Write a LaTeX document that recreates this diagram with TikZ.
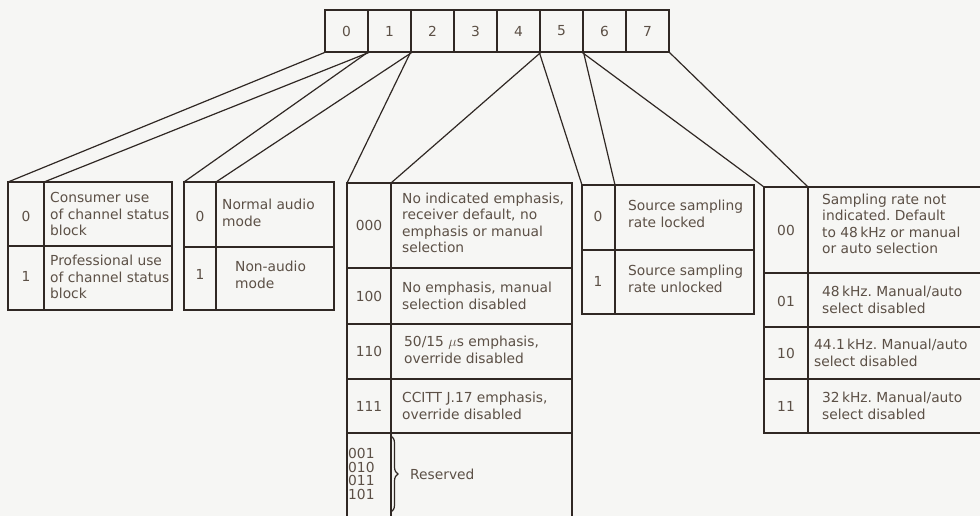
\documentclass[tikz,border=0pt]{standalone}
\usepackage{fontspec}
\setmainfont{DejaVu Sans}
\usetikzlibrary{calc, decorations.pathreplacing}
\frenchspacing

\definecolor{ink}{RGB}{48,40,36}
\definecolor{inktext}{RGB}{92,80,70}
\definecolor{paper}{RGB}{246,246,244}

\tikzset{
  rule/.style={draw=ink, line width=1.2pt},
  bitbox/.style={rule, minimum width=43pt, minimum height=42pt, inner sep=0pt, text=inktext},
  code/.style={text=inktext, inner sep=0pt},
  desc/.style={text=inktext, inner sep=0pt, anchor=west, align=left},
}

\begin{document}
\begin{tikzpicture}[x=1pt, y=-1pt, font=\fontsize{13.8}{16.5}\selectfont]
\fill[paper] (0,0) rectangle (980,516);
\useasboundingbox (0,0) rectangle (980,516);

% the eight bits of the byte
\foreach \i in {0,...,7}{
    \node[bitbox] (bit\i) at (346.5+43*\i,31) {\i};
}

% bit 0
\draw[rule] (8,182) rectangle (172,310) (44,182) -- (44,310) (8,246) -- (172,246);
\coordinate (t1) at (8,182);
\coordinate (t1d) at (44,182);
\node[code] (c1a) at (26,216) {0};
\node[desc] (d1a) at (50,214) {Consumer use\\of channel status\\block};
\node[code] (c1b) at (26,276) {1};
\node[desc] (d1b) at (50,277) {Professional use\\of channel status\\block};

% bit 1
\draw[rule] (184,182) rectangle (334,310) (216,182) -- (216,310) (184,247) -- (334,247);
\coordinate (t2) at (184,182);
\coordinate (t2d) at (216,182);
\node[code] (c2a) at (200,216) {0};
\node[desc] (d2a) at (222,213) {Normal audio\\mode};
\node[code] (c2b) at (200,274) {1};
\node[desc] (d2b) at (235,275) {Non-audio\\mode};

% bits 2 to 4
\draw[rule] (347,530) -- (347,183) -- (572,183) -- (572,530) (391,183) -- (391,530);
\foreach \y in {268,324,379,433}
    \draw[rule] (347,\y) -- (572,\y);
\coordinate (t3) at (347,183);
\coordinate (t3d) at (391,183);
\node[code] (c3a) at (369,225) {000};
\node[desc] (d3a) at (402,223) {No indicated emphasis,\\receiver default, no\\emphasis or manual\\selection};
\node[code] (c3b) at (369,296) {100};
\node[desc] (d3b) at (402,296) {No emphasis, manual\\selection disabled};
\node[code] (c3c) at (369,351) {110};
\node[desc] (d3c) at (404,350) {50/15 $\mu$s emphasis,\\override disabled};
\node[code] (c3d) at (369,406) {111};
\node[desc] (d3d) at (402,406) {CCITT J.17 emphasis,\\override disabled};
\node[code, anchor=west, align=left, font=\fontsize{13.8}{13.5}\selectfont] (c3e) at (348,474) {001\\010\\011\\101};
\draw[rule, decorate, decoration={brace, amplitude=7pt}] (391,436) -- (391,512);
\node[desc] (d3e) at (410,474) {Reserved};

% bit 5
\draw[rule] (582,185) rectangle (754,314) (615,185) -- (615,314) (582,250) -- (754,250);
\coordinate (t4) at (582,185);
\coordinate (t4d) at (615,185);
\node[code] (c4a) at (598,216) {0};
\node[desc] (d4a) at (628,214) {Source sampling\\rate locked};
\node[code] (c4b) at (598,281) {1};
\node[desc] (d4b) at (628,279) {Source sampling\\rate unlocked};

% bits 6 and 7
\draw[rule] (990,187) -- (764,187) -- (764,433) -- (990,433) (808,187) -- (808,433);
\foreach \y in {273,327,379}
    \draw[rule] (764,\y) -- (990,\y);
\coordinate (t5) at (764,187);
\coordinate (t5d) at (808,187);
\node[code] (c5a) at (786,230) {00};
\node[desc] (d5a) at (822,224) {Sampling rate not\\indicated. Default\\to 48\,kHz or manual\\or auto selection};
\node[code] (c5b) at (786,301) {01};
\node[desc] (d5b) at (822,300) {48\,kHz. Manual/auto\\select disabled};
\node[code] (c5c) at (786,353) {10};
\node[desc] (d5c) at (814,353) {44.1\,kHz. Manual/auto\\select disabled};
\node[code] (c5d) at (786,406) {11};
\node[desc] (d5d) at (822,406) {32\,kHz. Manual/auto\\select disabled};

% fan lines from the bits to the tables
\draw[rule] (t1) -- (bit0.south west) (t1d) -- (bit0.south east);
\draw[rule] (t2) -- (bit1.south west) (t2d) -- (bit1.south east);
\draw[rule] (t3) -- (bit2.south west) (t3d) -- (bit4.south east);
\draw[rule] (t4) -- (bit5.south west) (t4d) -- (bit5.south east);
\draw[rule] (t5) -- (bit6.south west) (t5d) -- (bit7.south east);
\end{tikzpicture}
\end{document}
